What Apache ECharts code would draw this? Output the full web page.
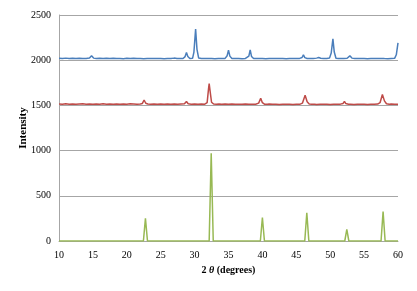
<!DOCTYPE html>
<html>
<head>
<meta charset="utf-8">
<script src="https://cdn.jsdelivr.net/npm/echarts@6/dist/echarts.min.js"></script>
<style>html,body{margin:0;padding:0;background:#fff}#c{width:417px;height:291px}</style>
</head>
<body>
<div id="c"></div>
<script>
var xTicks = [10, 15, 20, 25, 30, 35, 40, 45, 50, 55, 60];
var yTicks = [0, 500, 1000, 1500, 2000, 2500];

var blueX = [10,10.5,11,11.5,12,12.5,13,13.5,14,14.5,14.8,15.1,15.5,16,16.5,17,17.5,18,18.5,19,19.5,20,20.5,21,21.5,22,22.5,23,23.5,24,24.5,25,25.5,26,26.5,27,27.2,27.4,27.8,28.3,28.6,28.8,29.0,29.3,29.7,29.9,30.15,30.35,30.6,31,31.5,32,32.5,33,33.5,34,34.5,34.8,35.0,35.2,35.5,36,36.5,37,37.5,38.0,38.2,38.4,38.7,39,39.5,40,40.5,41,41.5,42,42.5,43,43.5,44,44.5,45,45.5,45.85,46.05,46.25,46.6,47,47.5,48,48.3,48.6,49,49.5,49.9,50.15,50.4,50.6,50.85,51.2,51.6,52,52.5,52.9,53.2,53.6,54,54.5,55,55.5,56,56.5,57,57.5,58,58.5,59,59.5,59.75,60];
var blueY = [2022,2019,2023,2019,2021,2018,2022,2020,2018,2024,2048,2023,2019,2021,2018,2021,2019,2022,2018,2020,2017,2021,2018,2021,2018,2019,2017,2020,2018,2020,2018,2019,2017,2020,2018,2023,2034,2020,2018,2019,2040,2084,2042,2018,2021,2090,2345,2120,2024,2018,2020,2018,2019,2017,2020,2018,2020,2050,2112,2045,2019,2018,2020,2017,2019,2045,2115,2040,2018,2020,2018,2019,2017,2020,2018,2020,2018,2019,2017,2020,2018,2018,2020,2030,2060,2028,2018,2020,2018,2023,2030,2022,2018,2020,2023,2080,2236,2090,2022,2018,2020,2018,2021,2048,2023,2018,2020,2018,2019,2017,2020,2018,2018,2020,2018,2017,2019,2021,2060,2192];

var redX = [10,10.5,11,11.5,12,12.5,13,13.5,14,14.5,15,15.5,16,16.5,17,17.5,18,18.5,19,19.5,20,20.5,21,21.5,22,22.3,22.55,22.8,23.1,23.5,24,24.5,25,25.5,26,26.5,27,27.5,28,28.5,28.8,29.05,29.5,30,30.5,31,31.5,31.85,32.05,32.15,32.3,32.5,32.8,33.2,33.6,34,34.5,35,35.5,36,36.5,37,37.5,38,38.5,39,39.45,39.75,40.0,40.3,40.7,41,41.5,42,42.5,43,43.5,44,44.5,45,45.5,45.9,46.3,46.6,46.9,47.3,47.7,48,48.5,49,49.5,50,50.5,51,51.5,51.9,52.1,52.3,52.7,53,53.5,54,54.5,55,55.5,56,56.5,57,57.35,57.7,58.0,58.3,58.7,59,59.5,60];
var redY = [1516,1513,1517,1514,1516,1513,1516,1518,1514,1516,1513,1516,1514,1517,1513,1516,1514,1516,1513,1516,1514,1517,1515,1513,1516,1522,1560,1524,1515,1513,1516,1513,1516,1514,1516,1513,1515,1513,1516,1517,1543,1518,1514,1516,1513,1515,1513,1530,1680,1740,1650,1535,1515,1513,1516,1513,1515,1513,1516,1513,1514,1512,1515,1512,1514,1513,1525,1580,1530,1514,1512,1515,1512,1514,1511,1513,1512,1514,1511,1513,1512,1525,1612,1540,1515,1512,1514,1511,1513,1512,1514,1511,1513,1512,1514,1522,1545,1520,1512,1514,1511,1513,1512,1514,1511,1513,1512,1515,1530,1620,1550,1518,1513,1515,1512,1514];

var greenX = [10,22.45,22.75,23.05,32.15,32.45,32.75,39.7,40.0,40.3,46.25,46.55,46.85,52.15,52.45,52.75,57.5,57.8,58.1,60];
var greenY = [0,0,250,0,0,970,0,0,260,0,0,313,0,0,128,0,0,327,0,0];

function pairs(xs, ys) { return xs.map(function (x, i) { return [x, ys[i]]; }); }

var chart = echarts.init(document.getElementById('c'), null, {renderer: 'canvas'});
var font = '"Liberation Serif", "Times New Roman", serif';
chart.setOption({
  animation: false,
  backgroundColor: '#fff',
  grid: {left: 59, right: 19, top: 15, bottom: 50, containLabel: false},
  xAxis: {
    type: 'value', min: xTicks[0], max: xTicks[xTicks.length - 1], interval: 5,
    axisLine: {show: true, onZero: false, lineStyle: {color: '#a6a6a6', width: 1}},
    axisTick: {show: false},
    splitLine: {show: false},
    axisLabel: {color: '#000', fontFamily: font, fontSize: 10, margin: 9, formatter: function (v) { return String(v); }},
    name: '{b|2 }{i|θ}{b| (degrees)}',
    nameLocation: 'middle', nameGap: 24, nameMoveOverlap: false,
    nameTextStyle: {
      rich: {
        b: {fontFamily: font, fontSize: 10, fontWeight: 'bold', color: '#000'},
        i: {fontFamily: font, fontSize: 10, fontWeight: 'bold', fontStyle: 'italic', color: '#000'}
      }
    }
  },
  yAxis: {
    type: 'value', min: yTicks[0], max: yTicks[yTicks.length - 1], interval: 500,
    axisLine: {show: true, lineStyle: {color: '#a6a6a6', width: 1}},
    axisTick: {show: false},
    splitLine: {show: true, lineStyle: {color: '#a6a6a6', width: 1}},
    axisLabel: {color: '#000', fontFamily: font, fontSize: 10, margin: 8, formatter: function (v) { return String(v); }},
    name: 'Intensity', nameLocation: 'middle', nameGap: 36, nameMoveOverlap: false,
    nameTextStyle: {fontFamily: font, fontSize: 11, fontWeight: 'bold', color: '#000', verticalAlign: 'middle'}
  },
  series: [
    {type: 'line', data: pairs(blueX, blueY), showSymbol: false, lineStyle: {color: '#4a7ebb', width: 1.5}, itemStyle: {color: '#4a7ebb'}},
    {type: 'line', data: pairs(redX, redY), showSymbol: false, lineStyle: {color: '#be4b48', width: 1.5}, itemStyle: {color: '#be4b48'}},
    {type: 'line', data: pairs(greenX, greenY), showSymbol: false, lineStyle: {color: '#98b954', width: 1.5}, itemStyle: {color: '#98b954'}}
  ]
});
</script>
</body>
</html>
